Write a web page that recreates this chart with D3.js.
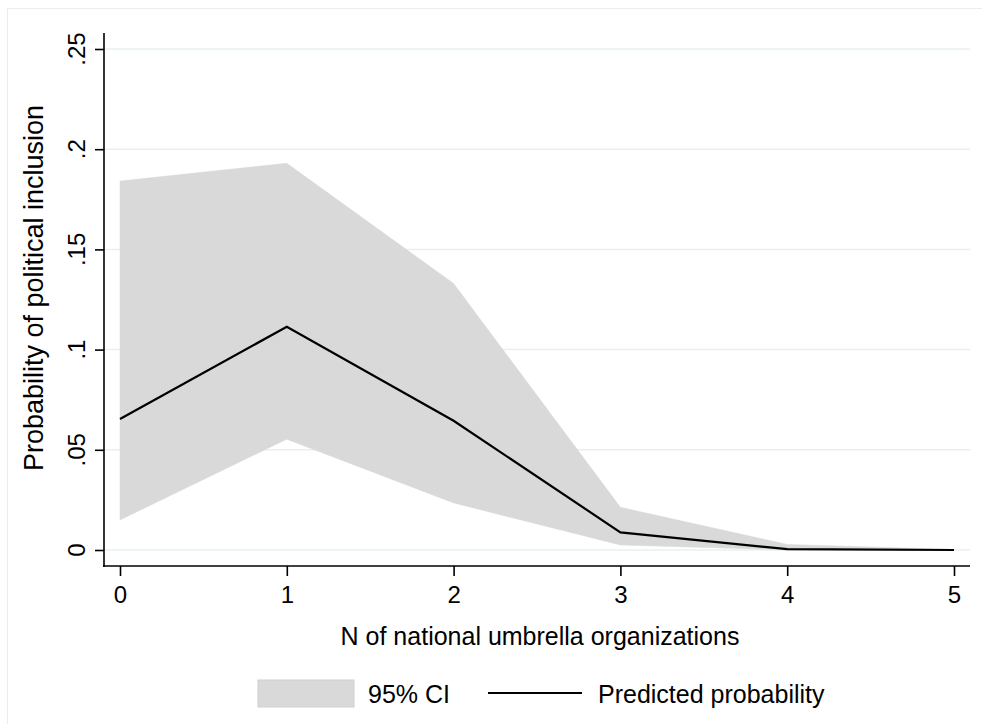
<!DOCTYPE html>
<html lang="en">
<head>
    <meta charset="UTF-8">
    <title>Predicted probability of political inclusion</title>
    <script src="https://d3js.org/d3.v7.min.js"></script>
    <style>
        body { margin: 0; background: #fff; }
        text { font-family: "Liberation Sans", Arial, sans-serif; fill: #000; }
    </style>
</head>
<body>
<script>
    // data
    var nOrgs = [0, 1, 2, 3, 4, 5];
    var predicted = [0.0654, 0.1114, 0.0645, 0.0088, 0.0004, 0.0];
    var ciUpper = [0.1841, 0.1930, 0.1330, 0.0213, 0.0028, 0.0002];
    var ciLower = [0.0150, 0.0553, 0.0235, 0.0025, 0.0001, 0.0];
    var yTicks = [0, 0.05, 0.1, 0.15, 0.2, 0.25];
    var yTickLabels = ["0", ".05", ".1", ".15", ".2", ".25"];

    var w = 982;
    var h = 724;

    var xScale = d3.scaleLinear().domain([0, 5]).range([120, 954]);
    var yScale = d3.scaleLinear().domain([0, 0.25]).range([550, 49]);

    var svg = d3.select("body").append("svg")
            .attr("width", w)
            .attr("height", h);

    // faint outer frame
    svg.append("rect")
        .attr("x", 7.5).attr("y", 8.5)
        .attr("width", 1000).attr("height", 740)
        .attr("fill", "none")
        .attr("stroke", "#e8eef0");

    // gridlines
    svg.append("g")
        .selectAll("line")
        .data(yTicks)
        .enter()
        .append("line")
        .attr("x1", 104).attr("x2", 970)
        .attr("y1", function(d) { return yScale(d); })
        .attr("y2", function(d) { return yScale(d); })
        .attr("stroke", "#e6f0f2")
        .attr("stroke-width", 1.5);

    // confidence band
    var band = d3.area()
            .x(function(d, i) { return xScale(nOrgs[i]); })
            .y0(function(d, i) { return yScale(ciLower[i]); })
            .y1(function(d, i) { return yScale(ciUpper[i]); });

    svg.append("path")
        .datum(nOrgs)
        .attr("d", band)
        .attr("fill", "#d9d9d9")
        .attr("stroke", "#d9d9d9")
        .attr("stroke-width", 0.5);

    // predicted probability line
    var line = d3.line()
            .x(function(d, i) { return xScale(nOrgs[i]); })
            .y(function(d) { return yScale(d); });

    svg.append("path")
        .datum(predicted)
        .attr("d", line)
        .attr("fill", "none")
        .attr("stroke", "#000")
        .attr("stroke-width", 2.2);

    // y axis
    var yAxis = d3.axisLeft(yScale)
            .tickValues(yTicks)
            .tickSize(9)
            .tickFormat("");
    var yG = svg.append("g")
            .attr("transform", "translate(104,0)")
            .call(yAxis);
    yG.select(".domain").attr("d", "M0,33V567");

    svg.append("g")
        .selectAll("text")
        .data(yTicks)
        .enter()
        .append("text")
        .attr("transform", function(d) { return "translate(85," + yScale(d) + ") rotate(-90)"; })
        .attr("text-anchor", "middle")
        .attr("font-size", "24px")
        .text(function(d, i) { return yTickLabels[i]; });

    // x axis
    var xAxis = d3.axisBottom(xScale)
            .tickValues(nOrgs)
            .tickSize(10)
            .tickPadding(10)
            .tickFormat(d3.format("d"));
    var xG = svg.append("g")
            .attr("transform", "translate(0,566)")
            .call(xAxis);
    xG.attr("font-size", null).attr("font-family", null);
    xG.select(".domain").attr("d", "M103,0H970");
    xG.selectAll("text")
        .attr("font-size", "24px")
        .attr("fill", "#000");

    svg.selectAll(".domain, .tick line")
        .attr("stroke", "#000")
        .attr("stroke-width", 1.6);

    // axis titles
    svg.append("text")
        .attr("x", 540).attr("y", 645)
        .attr("text-anchor", "middle")
        .attr("font-size", "25px")
        .text("N of national umbrella organizations");

    svg.append("text")
        .attr("transform", "translate(43,288) rotate(-90)")
        .attr("text-anchor", "middle")
        .attr("font-size", "27px")
        .text("Probability of political inclusion");

    // legend
    var legend = svg.append("g");
    legend.append("rect")
        .attr("x", 258).attr("y", 680)
        .attr("width", 96).attr("height", 27)
        .attr("fill", "#d9d9d9")
        .attr("stroke", "#d0d0d0");
    legend.append("text")
        .attr("x", 368).attr("y", 703)
        .attr("font-size", "25px")
        .text("95% CI");
    legend.append("line")
        .attr("x1", 488).attr("x2", 582)
        .attr("y1", 693).attr("y2", 693)
        .attr("stroke", "#000")
        .attr("stroke-width", 2);
    legend.append("text")
        .attr("x", 598).attr("y", 703)
        .attr("font-size", "25px")
        .text("Predicted probability");
</script>
</body>
</html>
